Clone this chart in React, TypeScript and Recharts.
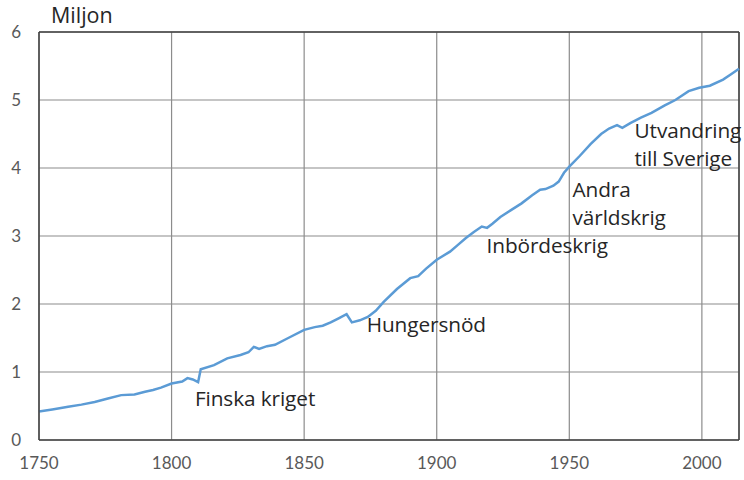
import * as React from "react";
import {
  LineChart,
  Line,
  XAxis,
  YAxis,
  CartesianGrid,
  ReferenceLine,
  ReferenceDot,
} from "recharts";

// Finlands folkmängd, miljoner
const years = [
  1750, 1755, 1761, 1766, 1771, 1776, 1781, 1786, 1790, 1793, 1796, 1800, 1804,
  1806, 1808, 1810, 1811, 1816, 1821, 1826, 1829, 1831, 1833, 1836, 1839, 1844,
  1850, 1854, 1857, 1860, 1863, 1866, 1868, 1871, 1874, 1877, 1880, 1885, 1890,
  1893, 1896, 1900, 1905, 1908, 1911, 1914, 1917, 1919, 1921, 1924, 1928, 1932,
  1936, 1939, 1941, 1944, 1946, 1948, 1950, 1954, 1958, 1962, 1965, 1968, 1970,
  1973, 1977, 1981, 1986, 1990, 1995, 1999, 2003, 2008, 2011, 2014,
];
const population = [
  0.42, 0.45, 0.49, 0.52, 0.56, 0.61, 0.66, 0.67, 0.71, 0.735, 0.77, 0.83, 0.86,
  0.91, 0.89, 0.85, 1.04, 1.1, 1.2, 1.25, 1.29, 1.37, 1.34, 1.38, 1.4, 1.5,
  1.62, 1.66, 1.68, 1.73, 1.79, 1.85, 1.73, 1.76, 1.81, 1.9, 2.03, 2.22, 2.38,
  2.41, 2.52, 2.65, 2.77, 2.87, 2.97, 3.06, 3.14, 3.12, 3.18, 3.28, 3.38, 3.48,
  3.6, 3.68, 3.69, 3.74, 3.8, 3.93, 4.02, 4.18, 4.35, 4.5, 4.58, 4.63, 4.59,
  4.66, 4.74, 4.81, 4.92, 5.0, 5.13, 5.18, 5.21, 5.3, 5.38, 5.46,
];

const xTicks = [1750, 1800, 1850, 1900, 1950, 2000];
const yTicks = [0, 1, 2, 3, 4, 5, 6];

// händelser: startår och nivå för textens baslinje
const eventYears = [1808.8, 1873.6, 1918.8, 1951.2, 1974.6];
const eventLevels = [0.5, 1.59, 2.75, 3.57, 4.44];
const eventTexts = [
  ["Finska kriget"],
  ["Hungersnöd"],
  ["Inbördeskrig"],
  ["Andra", "världskrig"],
  ["Utvandring", "till Sverige"],
];

const data = years.map((year, i) => ({ year, value: population[i] }));

const TICK_FONT = "Lato, 'Open Sans', sans-serif";
const TEXT_FONT = "'Open Sans', 'Noto Sans', sans-serif";

const App: React.FC = () => {
  return (
    <div style={{ position: "absolute", left: 0, top: 0, width: 744, height: 480, background: "#fff" }}>
      <div
        style={{
          position: "absolute",
          left: 51,
          top: 0,
          fontFamily: TEXT_FONT,
          fontSize: 21.5,
          color: "#262626",
        }}
      >
        Miljon
      </div>
      <LineChart
        width={744}
        height={480}
        data={data}
        margin={{ top: 32, right: 5, bottom: 10, left: 9 }}
      >
        <CartesianGrid stroke="#8c8c8c" strokeWidth={1.2} />
        <XAxis
          dataKey="year"
          type="number"
          domain={[1750, 2014]}
          ticks={xTicks}
          height={30}
          tickSize={0}
          tickMargin={17}
          axisLine={{ stroke: "#404040", strokeWidth: 1.5 }}
          tick={{ fill: "#595959", fontSize: 17, fontFamily: TICK_FONT }}
          interval={0}
        />
        <YAxis
          type="number"
          domain={[0, 6]}
          ticks={yTicks}
          width={30}
          tickSize={0}
          tickMargin={18}
          axisLine={{ stroke: "#404040", strokeWidth: 1.5 }}
          tick={{ fill: "#595959", fontSize: 17, fontFamily: TICK_FONT }}
          interval={0}
        />
        <ReferenceLine y={6} stroke="#404040" strokeWidth={1.5} />
        <ReferenceLine x={2014} stroke="#404040" strokeWidth={1.5} />
        <Line
          type="linear"
          dataKey="value"
          stroke="#5b9bd5"
          strokeWidth={2.5}
          dot={false}
          isAnimationActive={false}
        />
        {eventTexts.map((lines, i) => (
          <ReferenceDot
            key={lines[0]}
            x={eventYears[i]}
            y={eventLevels[i]}
            r={0}
            shape={(p: any) => (
              <text
                x={p.cx}
                y={p.cy}
                fill="#262626"
                fontSize={20.8}
                fontFamily={TEXT_FONT}
                letterSpacing={-0.1}
              >
                {lines.map((t, j) => (
                  <tspan key={t} x={p.cx} dy={j === 0 ? 0 : 28}>
                    {t}
                  </tspan>
                ))}
              </text>
            )}
          />
        ))}
      </LineChart>
    </div>
  );
};

export default App;
